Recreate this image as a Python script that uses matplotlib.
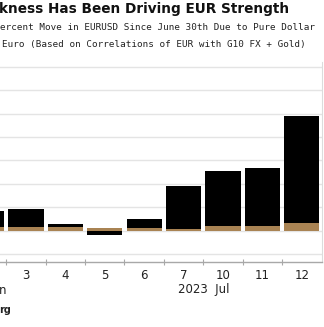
import matplotlib
matplotlib.use('Agg')
import matplotlib.pyplot as plt
import numpy as np

# Data (percent move in EURUSD since June 30th)
day_labels = ['30', '3', '4', '5', '6', '7', '10', '11', '12']
dollar = [0.27, 0.30, 0.05, -0.07, 0.14, 0.74, 0.93, 0.98, 1.82]
euro = [0.065, 0.065, 0.065, 0.046, 0.053, 0.026, 0.087, 0.087, 0.138]

W, H = 324, 327
fig = plt.figure(figsize=(W / 100, H / 100), dpi=100)

def fy(py):
    return 1 - py / H

def fx(px):
    return px / W

ax_left, ax_right, ax_top, ax_bot = 0, 322, 62, 262
ax = fig.add_axes([fx(ax_left), fy(ax_bot), fx(ax_right - ax_left), (ax_bot - ax_top) / H])

x = np.arange(len(day_labels))
dollar_a = np.array(dollar)
euro_a = np.array(euro)
black_bottom = np.where(dollar_a >= 0, np.maximum(euro_a, 0), np.minimum(euro_a, 0))
black_bottom = np.where((dollar_a < 0) & (euro_a > 0), 0, black_bottom)

tan = '#a98353'
ax.bar(x, euro_a, width=0.89, color=tan, zorder=3, linewidth=0)
ax.bar(x, dollar_a, bottom=black_bottom, width=0.89, color='#000000', zorder=3, linewidth=0)

ax.set_xlim(0.340, 8.513)
ax.set_ylim(-0.532, 2.879)
ax.set_yticks(np.arange(-0.4, 2.81, 0.4))
ax.yaxis.grid(True, color='#e4e4e4', linewidth=1.0, zorder=0)
ax.tick_params(axis='y', left=False, labelleft=False, right=False, labelright=False)

# first bar (Jun 30) lies mostly outside the visible crop; its label is not shown
ax.set_xticks(x[1:])
ax.set_xticklabels(day_labels[1:])
ax.set_xticks(x[:-1] + 0.5, minor=True)
ax.tick_params(axis='x', which='major', length=0, pad=5, labelsize=8.5, labelcolor='#222222')
ax.tick_params(axis='x', which='minor', length=4, direction='inout', color='#a8a8a8', width=0.8)

for s in ['top', 'left']:
    ax.spines[s].set_visible(False)
ax.spines['bottom'].set_color('#a8a8a8')
ax.spines['bottom'].set_linewidth(1.0)
ax.spines['right'].set_color('#dcdcdc')
ax.spines['right'].set_linewidth(0.8)

# Titles (cropped at left edge in reference)
fig.text(fx(-1), fy(9), 'kness Has Been Driving EUR Strength', fontsize=9.8,
         fontweight='bold', ha='left', va='center', color='#111111')
fig.text(fx(0), fy(27), 'ercent Move in EURUSD Since June 30th Due to Pure Dollar',
         family='DejaVu Sans Mono', fontsize=6.7, ha='left', va='center', color='#222222')
fig.text(fx(2), fy(44), 'Euro (Based on Correlations of EUR with G10 FX + Gold)',
         family='DejaVu Sans Mono', fontsize=6.7, ha='left', va='center', color='#222222')

# Secondary axis labels
fig.text(fx(203.5), fy(290), '2023  Jul', fontsize=8.5, ha='center', va='center', color='#222222')
fig.text(fx(-1), fy(290), 'n', fontsize=8.5, ha='left', va='center', color='#222222')
fig.text(fx(-1), fy(310), 'rg', fontsize=7, fontweight='bold', ha='left', va='center', color='#222222')

fig.savefig('out.png', dpi=100)
